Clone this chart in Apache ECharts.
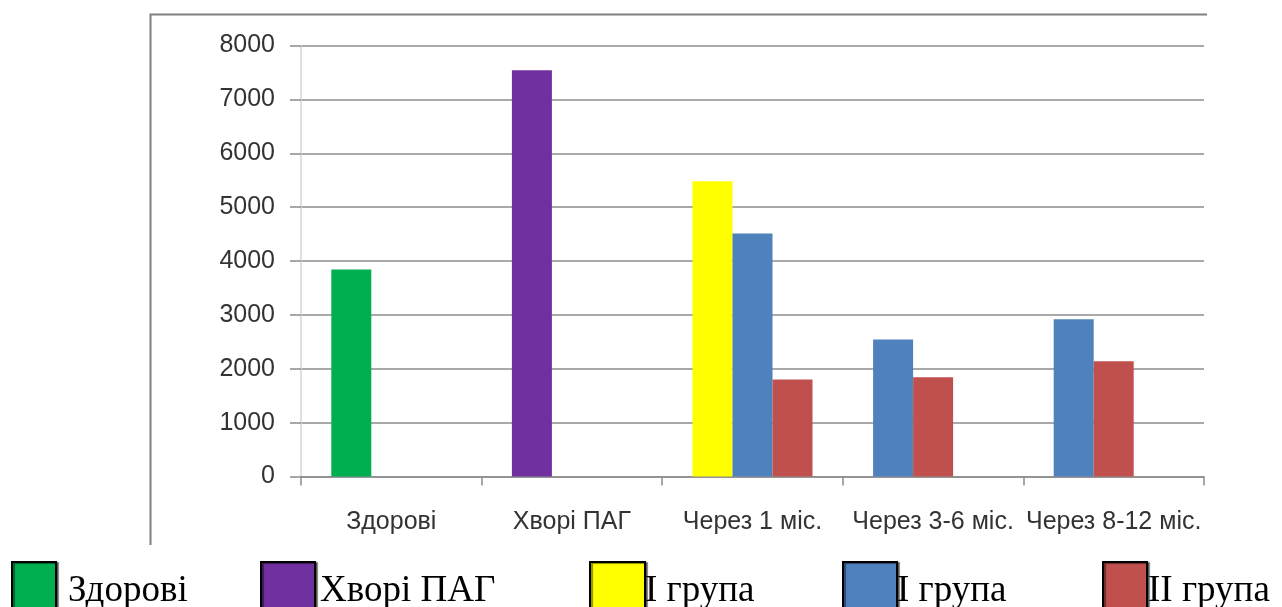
<!DOCTYPE html>
<html>
<head>
<meta charset="utf-8">
<script src="https://cdn.jsdelivr.net/npm/echarts@6/dist/echarts.min.js"></script>
<style>
  html, body { margin: 0; padding: 0; background: #fff; }
  #chart { width: 1282px; height: 607px; }
</style>
</head>
<body>
<div id="chart"></div>
<script>
// categories on the x axis
const categories = ['Здорові', 'Хворі ПАГ', 'Через 1 міс.', 'Через 3-6 міс.', 'Через 8-12 міс.'];

// values per group (null = no bar in that category)
const healthy = [3840, null, null, null, null];
const patients = [null, 7540, null, null, null];
const group1Yellow = [null, null, 5480, null, null];
const group1Blue = [null, null, 4510, 2545, 2920];
const group2Red = [null, null, 1800, 1840, 2140];

const groupNames = ['Здорові', 'Хворі ПАГ', 'І група', 'І група', 'ІІ група'];
const groupColors = ['#00B050', '#7030A0', '#FFFF00', '#4F81BD', '#C0504D'];
const groups = [healthy, patients, group1Yellow, group1Blue, group2Red];

// y axis
const yMin = 0, yMax = 8000, yStep = 1000;

// the bars sit side by side in up to 3 slots per category, left to right
const slotCount = 3;
const slots = [];
for (let s = 0; s < slotCount; s++) slots.push([]);
categories.forEach(function (c, i) {
  let k = 0;
  groups.forEach(function (g, gi) {
    if (g[i] != null) {
      slots[k].push({ value: g[i], itemStyle: { color: groupColors[gi] } });
      k++;
    }
  });
  for (; k < slotCount; k++) slots[k].push(null);
});

const chart = echarts.init(document.getElementById('chart'));

// legend drawn below the frame (squares with black border, serif text)
const legendPos = [
  { box: 12, w: 44, text: 68 },
  { box: 261, w: 54, text: 320 },
  { box: 590, w: 55, text: 645 },
  { box: 843, w: 54, text: 897 },
  { box: 1103, w: 44, text: 1148 }
];
const legendGraphics = [];
groupNames.forEach(function (name, i) {
  const p = legendPos[i];
  legendGraphics.push({
    type: 'rect',
    shape: { x: p.box, y: 562, width: p.w, height: 50 },
    style: {
      fill: groupColors[i], stroke: '#000', lineWidth: 2,
      shadowColor: 'rgba(0,0,0,0.45)', shadowOffsetX: 2, shadowOffsetY: 1, shadowBlur: 1
    },
    z: 10
  });
  legendGraphics.push({
    type: 'text',
    x: p.text,
    y: 591,
    style: {
      text: name,
      fontFamily: '"Liberation Serif", "Times New Roman", serif',
      fontSize: 37,
      fill: '#000',
      verticalAlign: 'middle'
    },
    z: 10
  });
});

chart.setOption({
  animation: false,
  grid: {
    left: 301,
    right: 78,
    top: 45.5,
    bottom: 130.5
  },
  xAxis: {
    type: 'category',
    data: categories,
    axisLine: { lineStyle: { color: '#8c8c8c', width: 1.5 } },
    axisTick: { show: true, length: 9, lineStyle: { color: '#8c8c8c', width: 1.5 } },
    axisLabel: {
      interval: 0,
      margin: 33,
      color: '#333',
      fontSize: 25,
      fontFamily: '"Liberation Sans", Arial, sans-serif'
    }
  },
  yAxis: {
    type: 'value',
    min: yMin,
    max: yMax,
    interval: yStep,
    axisLine: { show: true, lineStyle: { color: '#d4d4d4', width: 1.5 } },
    axisTick: { show: true, length: 11, lineStyle: { color: '#8c8c8c', width: 1.5 } },
    axisLabel: {
      margin: 26,
      color: '#333',
      fontSize: 25,
      fontFamily: '"Liberation Sans", Arial, sans-serif',
      formatter: function (v) { return String(v); }
    },
    splitLine: { lineStyle: { color: '#8c8c8c', width: 1.5 } }
  },
  series: slots.map(function (data, s) {
    return {
      type: 'bar',
      name: 'slot' + s,
      data: data,
      barWidth: 40,
      barGap: '0%',
      barCategoryGap: '34%'
    };
  }),
  graphic: [
    {
      type: 'polyline',
      shape: { points: [[150.5, 545], [150.5, 14.5], [1207, 14.5]] },
      style: { stroke: '#7f7f7f', lineWidth: 2, fill: null }
    }
  ].concat(legendGraphics)
});
</script>
</body>
</html>
